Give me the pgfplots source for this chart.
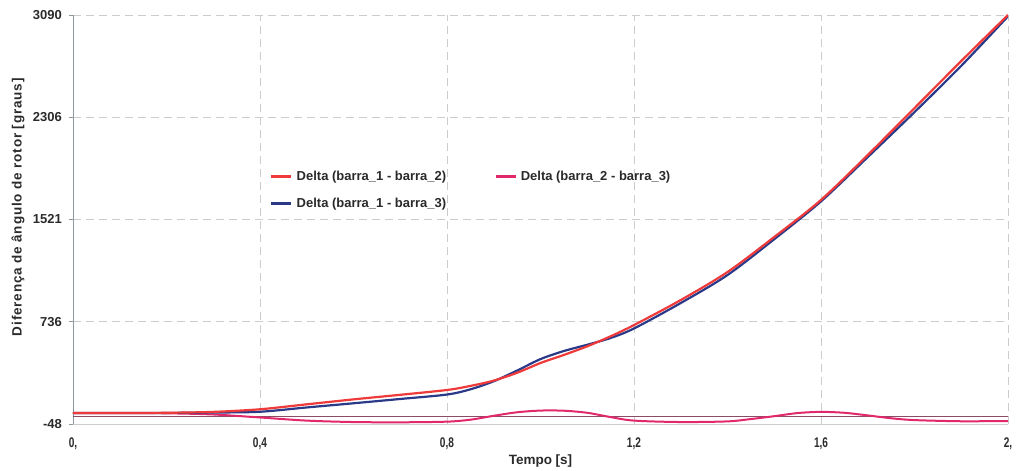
\documentclass[border=0pt]{standalone}
\usepackage{fontspec}
\setmainfont{Liberation Sans}
\newfontfamily\narrowfont[FakeStretch=0.72]{Liberation Sans}
\newfontfamily\widefont[LetterSpace=6]{Liberation Sans}
\usepackage{pgfplots}
\pgfplotsset{compat=1.18}
\definecolor{cred}{HTML}{EE3A3A}
\definecolor{cpink}{HTML}{E0286A}
\definecolor{cblue}{HTML}{2A3A88}
\definecolor{cline}{HTML}{8A4C66}
\definecolor{cgrid}{HTML}{CCCCCC}
\definecolor{caxis}{HTML}{8C9AA0}
\definecolor{ctext}{HTML}{2A2A2A}
\begin{document}
\begin{tikzpicture}
\begin{axis}[name=ax, scale only axis, width=935pt, height=409pt,
  xmin=0, xmax=2, ymin=-48, ymax=3090,
  axis x line*=bottom, axis y line*=left,
  x axis line style={cgrid, line width=0.8pt},
  y axis line style={caxis, line width=0.9pt},
  xtick={0,0.4,0.8,1.2,1.6,2},
  xticklabels={{0,},{0,4},{0,8},{1,2},{1,6},{2,}},
  ytick={-48,736,1521,2306,3090},
  yticklabels={-48,736,1521,2306,3090},
  xtick style={draw=none},
  ytick style={caxis, line width=0.8pt},
  tick align=outside, major tick length=4pt,
  yticklabel style={font=\bfseries\fontsize{13}{15}\selectfont, text=ctext, inner sep=0pt, xshift=-7pt},
  xticklabel style={font=\narrowfont\bfseries\fontsize{14}{15}\selectfont, text=ctext, inner sep=0pt, yshift=-10pt},
  grid=major,
  major grid style={cgrid, dash pattern=on 8pt off 5pt, line width=0.8pt},
  xlabel={Tempo [s]},
  xlabel style={at={(axis description cs:0.5,0)}, anchor=north, yshift=-31pt, inner sep=0pt, font=\bfseries\fontsize{13.5}{15}\selectfont, text=ctext},
  ylabel={Diferença de ângulo de rotor [graus]},
  ylabel style={at={(axis description cs:-0.0588,0.53)}, anchor=center, inner sep=0pt, font=\widefont\bfseries\fontsize{13.5}{15}\selectfont, text=ctext},
  legend columns=2,
  legend cell align=left,
  legend image code/.code={\draw[#1, line width=2.5pt] (0pt,0pt) -- (20pt,0pt);},
  legend style={at={(axis cs:0.4214,1908)}, anchor=north west, draw=none, fill=none,
    inner sep=0pt, row sep=12pt,
    font=\bfseries\fontsize{13}{15}\selectfont, text=ctext,
    /tikz/every odd column/.append style={column sep=2pt},
    /tikz/every even column/.append style={column sep=46pt}},
]
\addlegendimage{cred}
\addlegendentry{Delta (barra\_1 - barra\_2)}
\addlegendimage{cpink}
\addlegendentry{Delta (barra\_2 - barra\_3)}
\addlegendimage{cblue}
\addlegendentry{Delta (barra\_1 - barra\_3)}

% thin constant line
\addplot[cline, line width=0.9pt, forget plot] coordinates {(0,8) (2,8)};

% Delta (barra_2 - barra_3)
\addplot[cpink, line width=2pt, smooth, forget plot] coordinates {
(0,36) (0.1,36) (0.2,34) (0.3,25) (0.4,2) (0.5,-22) (0.6,-33) (0.7,-35)
(0.8,-30) (0.85,-15) (0.9,15) (0.95,42) (1.0,55) (1.05,54) (1.1,38)
(1.15,5) (1.2,-22) (1.3,-33) (1.4,-28) (1.45,-10) (1.5,12) (1.55,36)
(1.6,45) (1.65,38) (1.7,18) (1.75,-4) (1.8,-18) (1.9,-27) (2.0,-25)};

% Delta (barra_1 - barra_3)
\addplot[cblue, line width=2.2pt, smooth, forget plot] coordinates {
(0,36) (0.1,36) (0.2,37) (0.3,40) (0.4,46) (0.5,79) (0.6,111) (0.7,144)
(0.8,178) (0.85,218) (0.9,280) (0.95,362) (1.0,450) (1.05,512) (1.1,560)
(1.15,612) (1.2,685) (1.3,880) (1.4,1095) (1.5,1370) (1.6,1660)
(1.7,2000) (1.8,2345) (1.9,2700) (2.0,3080)};

% Delta (barra_1 - barra_2)
\addplot[cred, line width=2.2pt, smooth, forget plot] coordinates {
(0,36) (0.1,36) (0.2,38) (0.3,45) (0.4,65) (0.5,103) (0.6,141) (0.7,176)
(0.8,213) (0.85,244) (0.9,285) (0.95,345) (1.0,420) (1.05,482) (1.1,548)
(1.15,625) (1.2,711) (1.3,903) (1.4,1118) (1.5,1387) (1.6,1671)
(1.7,2016) (1.8,2376) (1.9,2737) (2.0,3090)};
\end{axis}
\pgfresetboundingbox
\path ([xshift=-73pt,yshift=-47pt]ax.south west) rectangle ([xshift=9pt,yshift=15pt]ax.north east);
\end{tikzpicture}
\end{document}
